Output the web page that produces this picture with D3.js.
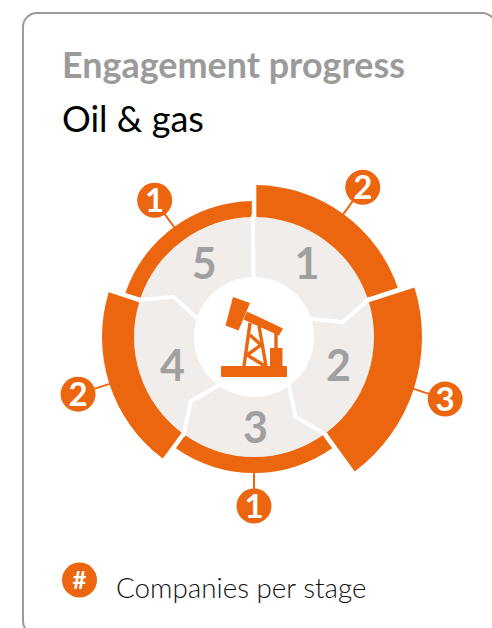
<!DOCTYPE html>
<html>
<head>
<meta charset="utf-8">
<script src="https://cdnjs.cloudflare.com/ajax/libs/d3/7.8.5/d3.min.js"></script>
<style>
  html, body { margin: 0; padding: 0; background: #fff; overflow: hidden; }
  text { font-family: Lato, sans-serif; }
</style>
</head>
<body>
<div id="chart"></div>
<script>
var title = 'Engagement progress';
var subtitle = 'Oil & gas';
var legendLabel = 'Companies per stage';
var stages = [1, 2, 3, 4, 5];
var companies = [2, 3, 1, 2, 1];

var orange = '#ec660f';
var grey = '#a0a0a0';
var cx = 254, cy = 337;

var svg = d3.select('#chart').append('svg')
  .attr('width', 492)
  .attr('height', 628);

svg.append('rect')
  .attr('x', 23).attr('y', 13)
  .attr('width', 473).attr('height', 622)
  .attr('rx', 14)
  .attr('fill', 'none')
  .attr('stroke', '#9b9b9b')
  .attr('stroke-width', 2);

svg.append('text')
  .attr('x', 62).attr('y', 78)
  .attr('font-size', 35.9)
  .attr('font-weight', 700)
  .attr('fill', '#9b9b9b')
  .text(title);

svg.append('text')
  .attr('x', 62).attr('y', 132)
  .attr('font-size', 36)
  .attr('fill', '#000')
  .text(subtitle);

// outer edge of the orange band grows with the number of companies
var radius = d3.scaleLinear().domain([0, 3]).range([120, 168]);

var pie = d3.pie().sort(null).value(function() { return 1; });
var slices = pie(stages.map(function(s, i) { return { stage: s, count: companies[i] }; }));
var deg = Math.PI / 180;

var g = svg.append('g').attr('transform', 'translate(' + cx + ',' + cy + ')');

g.append('path')
  .attr('d', d3.arc().innerRadius(60).outerRadius(120).startAngle(0).endAngle(2 * Math.PI)())
  .attr('fill', '#f0edea');

var band = d3.arc()
  .innerRadius(120)
  .outerRadius(function(d) { return radius(d.data.count); })
  .padAngle(0.024);

g.selectAll('.band')
  .data(slices).enter()
  .append('path')
  .attr('class', 'band')
  .attr('fill', orange)
  .attr('d', band);

// kinked white separators across the grey ring
var sep = d3.lineRadial();
g.selectAll('.sep')
  .data(slices).enter()
  .append('path')
  .attr('class', 'sep')
  .attr('fill', 'none')
  .attr('stroke', '#fff')
  .attr('stroke-width', 4)
  .attr('d', function(d, i) {
    var a = d.startAngle - 0.5 * deg;
    var kink = i === 0 ? 0 : 9 * deg;
    return sep([[a, 58], [a + kink, 90], [a, 122]]);
  });

var mid = function(d) { return (d.startAngle + d.endAngle) / 2; };

g.selectAll('.stage')
  .data(slices).enter()
  .append('text')
  .attr('class', 'stage')
  .attr('text-anchor', 'middle')
  .attr('dy', '0.36em')
  .attr('font-size', 43)
  .attr('font-weight', 700)
  .attr('fill', grey)
  .attr('transform', function(d) {
    var p = d3.pointRadial(mid(d), 91);
    return 'translate(' + (p[0] * 0.96 + 1.5) + ',' + p[1] + ')';
  })
  .text(function(d) { return d.data.stage; });

g.selectAll('.lead')
  .data(slices).enter()
  .append('path')
  .attr('class', 'lead')
  .attr('stroke', orange)
  .attr('stroke-width', 2)
  .attr('d', function(d) {
    var r = radius(d.data.count);
    return sep([[mid(d), r - 1], [mid(d), r + 20]]);
  });

var badge = g.selectAll('.badge')
  .data(slices).enter()
  .append('g')
  .attr('class', 'badge')
  .attr('transform', function(d) {
    return 'translate(' + d3.pointRadial(mid(d), radius(d.data.count) + 33) + ')';
  });

badge.append('circle').attr('r', 17.5).attr('fill', orange);
badge.append('text')
  .attr('text-anchor', 'middle')
  .attr('dy', '0.36em')
  .attr('font-size', 33)
  .attr('font-weight', 700)
  .attr('fill', '#fff')
  .text(function(d) { return d.data.count; });

// pump jack icon
var icon = svg.append('g').attr('fill', orange);
icon.append('rect').attr('x', 221).attr('y', 366).attr('width', 66).attr('height', 11).attr('rx', 1);
icon.append('path').attr('d', 'M233,297 L250,303 L238.5,330.5 L225.5,325.5 Z');
icon.append('path').attr('d', 'M247,311.5 L283,328.5 L279,335.5 L243.5,319.5 Z');
icon.append('rect').attr('x', 270).attr('y', 348).attr('width', 12.5).attr('height', 18);
icon.append('path')
  .attr('d', 'M276,333 L276,349 M250,323 L244,366 M259,326 L266,366 M250,335 L261,345 L247,355 L265,366')
  .attr('fill', 'none')
  .attr('stroke', orange)
  .attr('stroke-width', 3.4);

svg.append('circle').attr('cx', 79.5).attr('cy', 580).attr('r', 17.5).attr('fill', orange);
svg.append('text')
  .attr('x', 79.5).attr('y', 580)
  .attr('dy', '0.36em')
  .attr('text-anchor', 'middle')
  .attr('font-size', 24)
  .attr('font-weight', 700)
  .attr('fill', '#fff')
  .text('#');

svg.append('text')
  .attr('x', 116).attr('y', 598)
  .attr('font-size', 27.8)
  .attr('font-weight', 300)
  .attr('fill', '#111')
  .text(legendLabel);
</script>
</body>
</html>
